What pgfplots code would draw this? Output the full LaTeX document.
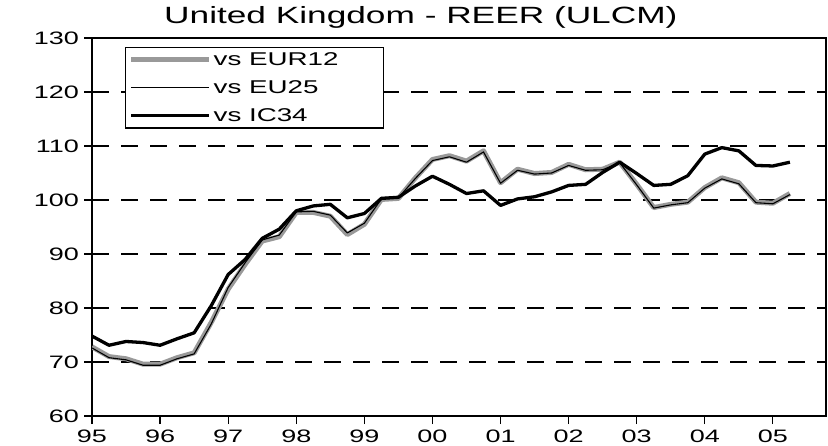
\documentclass[border=0pt]{standalone}
\usepackage{fontspec}
\setmainfont{Liberation Sans}[FakeStretch=1.5]
\usepackage{pgfplots}
\pgfplotsset{compat=1.18}
\begin{document}
\begin{tikzpicture}
\begin{axis}[
  at={(0,0)}, anchor=south west,
  scale only axis, width=734bp, height=378bp,
  xmin=1995, xmax=2005.78, ymin=60, ymax=130,
  xtick={1995,1996,1997,1998,1999,2000,2001,2002,2003,2004,2005},
  xticklabels={95,96,97,98,99,00,01,02,03,04,05},
  ytick={60,70,80,90,100,110,120,130},
  /pgf/number format/assume math mode=true,
  tick pos=left, tick align=outside,
  major tick length=8bp,
  tick style={black, line width=1.2bp},
  axis line style={black, line width=1.5bp},
  ymajorgrids,
  grid style={black, line width=1.1bp, dash pattern=on 17bp off 12bp},
  ticklabel style={font=\fontsize{18bp}{20bp}\selectfont},
  yticklabel style={inner sep=0pt, xshift=-5bp},
  xticklabel style={inner sep=0pt, yshift=-6bp},
  title={United Kingdom - REER (ULCM)},
  title style={at={(axis description cs:0.448,1.022)}, anchor=base, inner sep=0pt, font=\fontsize{23.5bp}{26bp}\selectfont},
  legend style={at={(axis description cs:0.045,0.976)}, anchor=north west,
    draw=black, line width=1.2bp, inner xsep=3bp, inner ysep=3bp,
    font=\fontsize{18.5bp}{20bp}\selectfont, row sep=9.5bp,
    nodes={inner sep=2bp}},
  legend cell align=left,
  legend image code/.code={\draw[#1] (0bp,0bp) -- (78bp,0bp);},
]
\addplot[black!40, line width=5bp, line join=round] coordinates {
(1995.00,72.8)(1995.25,71.0)(1995.50,70.6)(1995.75,69.6)
(1996.00,69.6)(1996.25,70.8)(1996.50,71.7)(1996.75,77.3)
(1997.00,83.5)(1997.25,88.1)(1997.50,92.4)(1997.75,93.2)
(1998.00,97.7)(1998.25,97.7)(1998.50,97.0)(1998.75,93.6)
(1999.00,95.5)(1999.25,100.1)(1999.50,100.3)(1999.75,104.1)
(2000.00,107.5)(2000.25,108.2)(2000.50,107.2)(2000.75,109.1)
(2001.00,103.2)(2001.25,105.7)(2001.50,104.9)(2001.75,105.1)
(2002.00,106.6)(2002.25,105.6)(2002.50,105.7)(2002.75,107.0)
(2003.00,102.9)(2003.25,98.6)(2003.50,99.2)(2003.75,99.6)
(2004.00,102.3)(2004.25,104.1)(2004.50,103.2)(2004.75,99.6)
(2005.00,99.4)(2005.25,101.2)
};
\addlegendentry{\makebox[165bp][l]{vs EUR12}}
\addplot[black, line width=1.1bp, line join=round] coordinates {
(1995.00,72.6)(1995.25,70.8)(1995.50,70.4)(1995.75,69.4)
(1996.00,69.4)(1996.25,70.6)(1996.50,71.5)(1996.75,77.0)
(1997.00,83.8)(1997.25,88.4)(1997.50,92.6)(1997.75,93.5)
(1998.00,97.8)(1998.25,97.9)(1998.50,97.2)(1998.75,93.9)
(1999.00,95.7)(1999.25,100.2)(1999.50,100.4)(1999.75,104.0)
(2000.00,107.3)(2000.25,108.0)(2000.50,107.0)(2000.75,108.9)
(2001.00,103.1)(2001.25,105.5)(2001.50,104.8)(2001.75,105.0)
(2002.00,106.4)(2002.25,105.5)(2002.50,105.6)(2002.75,106.9)
(2003.00,102.8)(2003.25,98.5)(2003.50,99.1)(2003.75,99.5)
(2004.00,102.2)(2004.25,103.9)(2004.50,103.0)(2004.75,99.5)
(2005.00,99.3)(2005.25,101.0)
};
\addlegendentry{vs EU25}
\addplot[black, line width=3.3bp, line join=round] coordinates {
(1995.00,74.8)(1995.25,73.1)(1995.50,73.8)(1995.75,73.6)
(1996.00,73.1)(1996.25,74.3)(1996.50,75.4)(1996.75,80.4)
(1997.00,86.2)(1997.25,89.0)(1997.50,92.9)(1997.75,94.6)
(1998.00,98.0)(1998.25,98.9)(1998.50,99.2)(1998.75,96.7)
(1999.00,97.5)(1999.25,100.3)(1999.50,100.5)(1999.75,102.6)
(2000.00,104.4)(2000.25,102.9)(2000.50,101.2)(2000.75,101.7)
(2001.00,99.0)(2001.25,100.2)(2001.50,100.6)(2001.75,101.5)
(2002.00,102.7)(2002.25,102.9)(2002.50,105.1)(2002.75,107.0)
(2003.00,104.9)(2003.25,102.7)(2003.50,102.9)(2003.75,104.5)
(2004.00,108.5)(2004.25,109.7)(2004.50,109.1)(2004.75,106.4)
(2005.00,106.3)(2005.25,107.0)
};
\addlegendentry{vs IC34}
\end{axis}
\pgfresetboundingbox
\path[use as bounding box] (-92bp,-30bp) rectangle (736bp,416bp);
\end{tikzpicture}
\end{document}
